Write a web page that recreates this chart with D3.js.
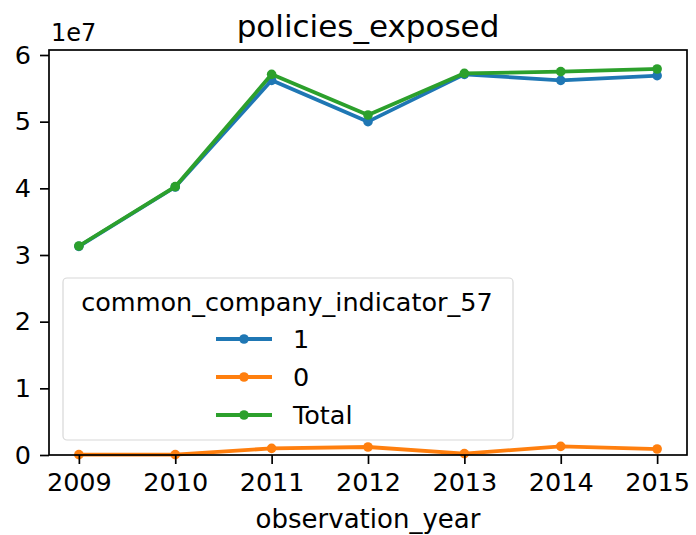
<!DOCTYPE html>
<html><head><meta charset="utf-8">
<script src="https://cdn.jsdelivr.net/npm/d3@7"></script>
<style>
html,body{margin:0;padding:0;background:#fff;}
text{font-family:"DejaVu Sans",sans-serif;fill:#000;}
</style></head>
<body><svg id="c" width="696" height="535"></svg>
<script>
const years = [2009, 2010, 2011, 2012, 2013, 2014, 2015];
const series1 = [3.13e7, 4.02e7, 5.62e7, 5.00e7, 5.71e7, 5.62e7, 5.69e7];
const series0 = [0.005e7, 0.005e7, 0.10e7, 0.12e7, 0.02e7, 0.13e7, 0.09e7];
const seriesTotal = [3.135e7, 4.025e7, 5.71e7, 5.10e7, 5.725e7, 5.75e7, 5.79e7];
const seriesNames = ["1", "0", "Total"];
const seriesColors = ["#1f77b4", "#ff7f0e", "#2ca02c"];
const yTicks = [0, 1e7, 2e7, 3e7, 4e7, 5e7, 6e7];

const svg = d3.select("#c");
const L = 49, R = 687, T = 50, B = 455;
const x = d3.scaleLinear().domain([2008.69, 2015.31]).range([L, R]);
const y = d3.scaleLinear().domain([0, 6.075e7]).range([B, T]);

const allSeries = [series1, series0, seriesTotal];
const line = d3.line().x((d, i) => x(years[i])).y(d => y(d));
const g = svg.append("g");
[0, 1, 2].forEach(k => {
  g.append("path").datum(allSeries[k]).attr("d", line)
    .attr("fill", "none").attr("stroke", seriesColors[k]).attr("stroke-width", 3.8)
    .attr("stroke-linejoin", "round").attr("stroke-linecap", "square");
  g.selectAll(null).data(allSeries[k]).enter().append("circle")
    .attr("cx", (d, i) => x(years[i])).attr("cy", d => y(d)).attr("r", 4.8)
    .attr("fill", seriesColors[k]);
});

// axes
const xAxis = d3.axisBottom(x).tickValues(years).tickFormat(d3.format("d")).tickSize(9).tickPadding(9);
const gx = svg.append("g").attr("transform", `translate(0,${B})`).call(xAxis);
const yAxis = d3.axisLeft(y).tickValues(yTicks).tickFormat(d => d / 1e7).tickSize(9).tickPadding(9);
const gy = svg.append("g").attr("transform", `translate(${L},0)`).call(yAxis);
[gx, gy].forEach(a => {
  a.select(".domain").remove();
  a.selectAll(".tick line").attr("stroke", "#000").attr("stroke-width", 1.7);
  a.selectAll(".tick text").style("font-family", "DejaVu Sans").style("font-size", "25.5px").attr("fill", "#000");
});
svg.append("rect").attr("x", L).attr("y", T).attr("width", R - L).attr("height", B - T)
  .attr("fill", "none").attr("stroke", "#000").attr("stroke-width", 1.7);

svg.append("text").attr("x", L + 2).attr("y", T - 9).style("font-size", "24px").text("1e7");
svg.append("text").attr("x", (L + R) / 2).attr("y", 37).attr("text-anchor", "middle")
  .style("font-size", "31px").text("policies_exposed");
svg.append("text").attr("x", (L + R) / 2).attr("y", 528).attr("text-anchor", "middle")
  .style("font-size", "26px").text("observation_year");

// legend
const lg = svg.append("g");
lg.append("rect").attr("x", 63).attr("y", 278).attr("width", 450).attr("height", 162).attr("rx", 4)
  .attr("fill", "#fff").attr("fill-opacity", 0.8).attr("stroke", "#d8d8d8").attr("stroke-width", 1.2);
lg.append("text").attr("x", 287).attr("y", 311).attr("text-anchor", "middle")
  .style("font-size", "25.5px").text("common_company_indicator_57");
seriesNames.forEach((n, i) => {
  const yy = 339 + i * 38;
  lg.append("line").attr("x1", 216).attr("x2", 272).attr("y1", yy).attr("y2", yy)
    .attr("stroke", seriesColors[i]).attr("stroke-width", 3.8);
  lg.append("circle").attr("cx", 244).attr("cy", yy).attr("r", 4.8).attr("fill", seriesColors[i]);
  lg.append("text").attr("x", 293).attr("y", yy + 9).style("font-size", "25.5px").text(n);
});
</script></body></html>
